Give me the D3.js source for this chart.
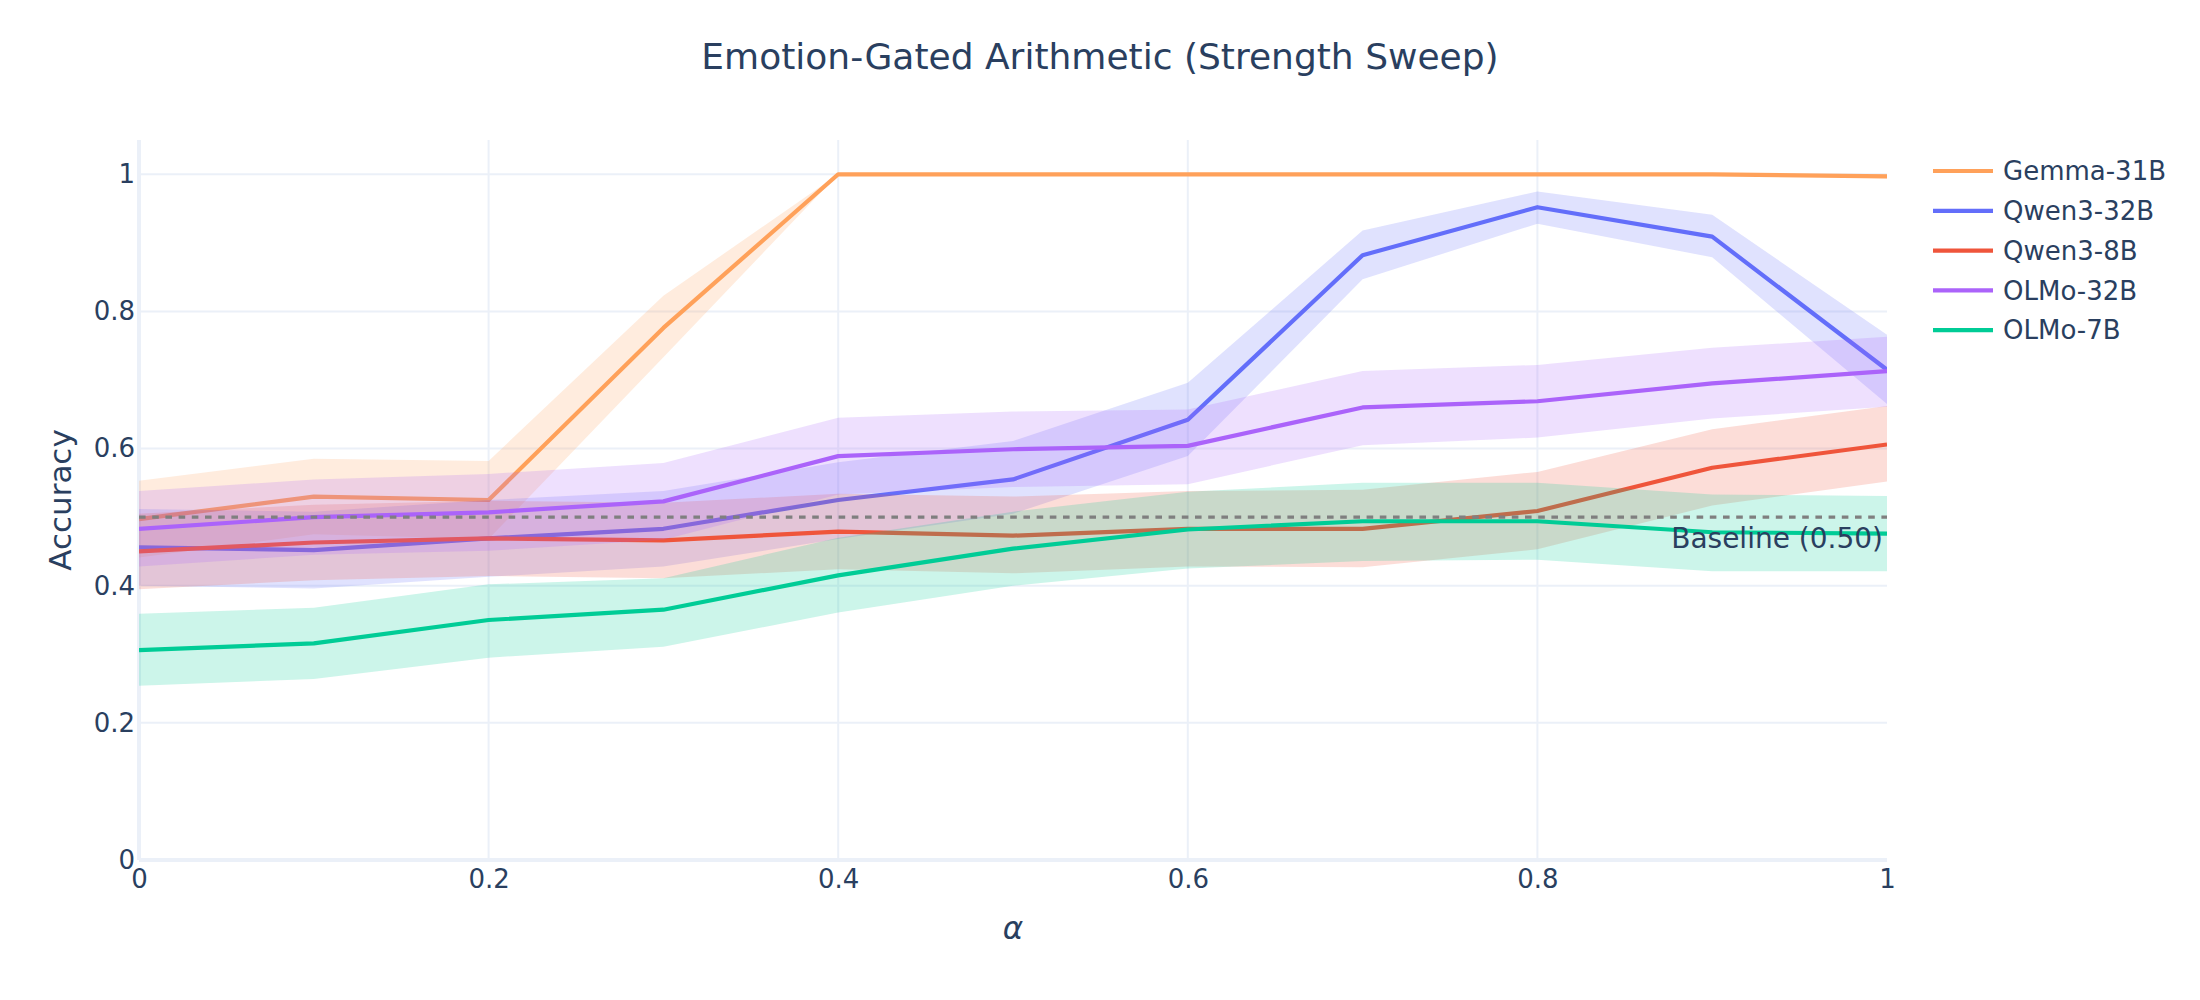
<!DOCTYPE html>
<html>
<head>
<meta charset="utf-8">
<script src="https://cdn.jsdelivr.net/npm/d3@7"></script>
<style>
	body { margin: 0; background: #fff; }
	text { font-family: "DejaVu Sans", sans-serif; fill: #2a3f5f; }
</style>
</head>
<body>
<div id="chart-area"></div>
<script>

// SVG Size
let width = 2200,
	height = 1000;

// steering strength
let alphas = [0, 0.1, 0.2, 0.3, 0.4, 0.5, 0.6, 0.7, 0.8, 0.9, 1.0];

let models = ["Gemma-31B", "Qwen3-32B", "Qwen3-8B", "OLMo-32B", "OLMo-7B"];
let colors = ["#FFA15A", "#636efa", "#EF553B", "#ab63fa", "#00cc96"];

// mean accuracy per model
let gemma31 = [0.497, 0.530, 0.525, 0.776, 1.0, 1.0, 1.0, 1.0, 1.0, 1.0, 0.997];
let qwen32 = [0.456, 0.452, 0.469, 0.483, 0.525, 0.555, 0.642, 0.882, 0.952, 0.909, 0.715];
let qwen8 = [0.450, 0.463, 0.469, 0.466, 0.479, 0.473, 0.483, 0.483, 0.509, 0.572, 0.606];
let olmo32 = [0.483, 0.500, 0.507, 0.523, 0.589, 0.599, 0.604, 0.660, 0.669, 0.695, 0.713];
let olmo7 = [0.306, 0.316, 0.350, 0.365, 0.415, 0.454, 0.482, 0.494, 0.494, 0.478, 0.476];

// band upper / lower
let gemma31Hi = [0.553, 0.585, 0.582, 0.823, 1.0, 1.0, 1.0, 1.0, 1.0, 1.0, 1.0];
let gemma31Lo = [0.441, 0.475, 0.468, 0.733, 1.0, 1.0, 1.0, 1.0, 1.0, 1.0, 0.994];
let qwen32Hi = [0.512, 0.508, 0.525, 0.538, 0.580, 0.611, 0.696, 0.918, 0.975, 0.941, 0.766];
let qwen32Lo = [0.400, 0.396, 0.413, 0.428, 0.468, 0.505, 0.589, 0.847, 0.928, 0.879, 0.665];
let qwen8Hi = [0.505, 0.518, 0.524, 0.521, 0.534, 0.530, 0.538, 0.540, 0.566, 0.628, 0.662];
let qwen8Lo = [0.395, 0.408, 0.414, 0.411, 0.424, 0.418, 0.428, 0.427, 0.453, 0.517, 0.552];
let olmo32Hi = [0.538, 0.555, 0.563, 0.579, 0.645, 0.654, 0.657, 0.713, 0.722, 0.747, 0.763];
let olmo32Lo = [0.428, 0.445, 0.451, 0.467, 0.533, 0.544, 0.548, 0.605, 0.616, 0.644, 0.661];
let olmo7Hi = [0.359, 0.368, 0.402, 0.411, 0.470, 0.508, 0.537, 0.550, 0.550, 0.533, 0.531];
let olmo7Lo = [0.254, 0.264, 0.295, 0.311, 0.361, 0.400, 0.425, 0.436, 0.438, 0.421, 0.421];

let baseline = 0.5;
let xTicks = [0, 0.2, 0.4, 0.6, 0.8, 1];
let yTicks = [0, 0.2, 0.4, 0.6, 0.8, 1];

let means = [gemma31, qwen32, qwen8, olmo32, olmo7];
let highs = [gemma31Hi, qwen32Hi, qwen8Hi, olmo32Hi, olmo7Hi];
let lows = [gemma31Lo, qwen32Lo, qwen8Lo, olmo32Lo, olmo7Lo];

drawChart();

function drawChart() {
	let svg = d3.select("#chart-area")
		.append("svg")
		.attr("width", width)
		.attr("height", height);

	let left = 139, right = 1887, top = 140, bottom = 860;

	let xScale = d3.scaleLinear()
		.domain([0, 1])
		.range([left, right]);

	let yScale = d3.scaleLinear()
		.domain([0, 1.05])
		.range([bottom, top]);

	// grid
	svg.append("g").selectAll("line")
		.data(xTicks.filter(d => d > 0 && d < 1))
		.enter()
		.append("line")
		.attr("x1", d => xScale(d)).attr("x2", d => xScale(d))
		.attr("y1", top).attr("y2", bottom)
		.attr("stroke", "#EBF0F8")
		.attr("stroke-width", 2);

	svg.append("g").selectAll("line")
		.data(yTicks.filter(d => d > 0))
		.enter()
		.append("line")
		.attr("x1", left).attr("x2", right)
		.attr("y1", d => yScale(d)).attr("y2", d => yScale(d))
		.attr("stroke", "#EBF0F8")
		.attr("stroke-width", 2);

	// zero lines
	svg.append("line")
		.attr("x1", xScale(0)).attr("x2", xScale(0))
		.attr("y1", top).attr("y2", bottom)
		.attr("stroke", "#EBF0F8").attr("stroke-width", 4);
	svg.append("line")
		.attr("x1", left).attr("x2", right)
		.attr("y1", yScale(0)).attr("y2", yScale(0))
		.attr("stroke", "#EBF0F8").attr("stroke-width", 4);

	svg.append("defs").append("clipPath")
		.attr("id", "plot-clip")
		.append("rect")
		.attr("x", left).attr("y", top)
		.attr("width", right - left).attr("height", bottom - top);

	let plot = svg.append("g").attr("clip-path", "url(#plot-clip)");

	let area = d3.area()
		.x((d, i) => xScale(alphas[i]))
		.y0(d => yScale(d[0]))
		.y1(d => yScale(d[1]));

	let line = d3.line()
		.x((d, i) => xScale(alphas[i]))
		.y(d => yScale(d));

	models.forEach((m, k) => {
		let band = lows[k].map((lo, i) => [lo, highs[k][i]]);
		plot.append("path")
			.datum(band)
			.attr("d", area)
			.attr("fill", colors[k])
			.attr("fill-opacity", 0.2);
		plot.append("path")
			.datum(means[k])
			.attr("d", line)
			.attr("fill", "none")
			.attr("stroke", colors[k])
			.attr("stroke-width", 4.2)
			.attr("stroke-linejoin", "round");
	});

	// baseline
	svg.append("line")
		.attr("x1", xScale(0)).attr("x2", xScale(1))
		.attr("y1", yScale(baseline)).attr("y2", yScale(baseline))
		.attr("stroke", "#7f7f7f")
		.attr("stroke-width", 3.3)
		.attr("stroke-dasharray", "6.6,6.6");

	svg.append("text")
		.attr("x", xScale(1) - 4)
		.attr("y", yScale(baseline) + 31)
		.attr("text-anchor", "end")
		.attr("font-size", 28)
		.text("Baseline (0.50)");

	// axes
	let xAxis = d3.axisBottom(xScale)
		.tickValues(xTicks)
		.tickSize(0)
		.tickPadding(10)
		.tickFormat(d3.format("~g"));
	let yAxis = d3.axisLeft(yScale)
		.tickValues(yTicks)
		.tickSize(0)
		.tickPadding(4)
		.tickFormat(d3.format("~g"));

	let gx = svg.append("g")
		.attr("transform", "translate(0," + bottom + ")")
		.call(xAxis);
	let gy = svg.append("g")
		.attr("transform", "translate(" + left + ",0)")
		.call(yAxis);
	[gx, gy].forEach(g => {
		g.select(".domain").remove();
		g.selectAll("text")
			.attr("font-size", 26)
			.attr("font-family", "DejaVu Sans, sans-serif")
			.attr("fill", "#2a3f5f");
	});

	// titles
	svg.append("text")
		.attr("x", width / 2)
		.attr("y", 69)
		.attr("text-anchor", "middle")
		.attr("font-size", 36)
		.text("Emotion-Gated Arithmetic (Strength Sweep)");

	svg.append("text")
		.attr("x", (left + right) / 2)
		.attr("y", 939)
		.attr("text-anchor", "middle")
		.attr("font-size", 31)
		.attr("font-style", "italic")
		.attr("font-family", "DejaVu Serif, serif")
		.text("α");

	svg.append("text")
		.attr("x", -(top + bottom) / 2)
		.attr("y", 71)
		.attr("transform", "rotate(-90)")
		.attr("text-anchor", "middle")
		.attr("font-size", 31)
		.text("Accuracy");

	// legend
	let legend = svg.append("g").selectAll("g")
		.data(models)
		.enter()
		.append("g")
		.attr("transform", (d, i) => "translate(1933," + (171 + i * 39.8) + ")");

	legend.append("line")
		.attr("x1", 0).attr("x2", 60)
		.attr("stroke", (d, i) => colors[i])
		.attr("stroke-width", 4.2);

	legend.append("text")
		.attr("x", 70)
		.attr("dy", "0.35em")
		.attr("font-size", 26)
		.text(d => d);
}
</script>
</body>
</html>
